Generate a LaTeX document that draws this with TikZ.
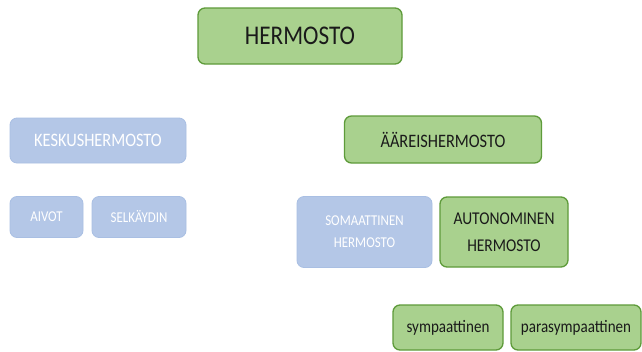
\documentclass[tikz,border=0pt]{standalone}
\usepackage{fontspec}
\setmainfont{Carlito}[FakeStretch=0.86]
\definecolor{greenfill}{HTML}{A9D18E}
\definecolor{greenline}{HTML}{5E9B3A}
\definecolor{bluefill}{HTML}{B4C7E7}
\definecolor{blueline}{HTML}{A9BFE3}
\definecolor{darktext}{HTML}{1A1A1A}
\tikzset{
  greenbox/.style={draw=greenline, line width=1.3pt, fill=greenfill, rounded corners=7pt,
    text=darktext, align=center, inner sep=0pt},
  bluebox/.style={draw=blueline, line width=0.8pt, fill=bluefill, rounded corners=7pt,
    text=white, align=center, inner sep=0pt},
}
\begin{document}
\begin{tikzpicture}[x=1pt, y=-1pt]
  \useasboundingbox (0,0) rectangle (642,351);
  \fill[white] (0,0) rectangle (642,351);

  % top level
  \node[greenbox, minimum width=204pt, minimum height=56pt, font=\fontsize{27}{30}\selectfont]
    (hermosto) at (300,36) {HERMOSTO};

  % central nervous system
  \node[bluebox, minimum width=176pt, minimum height=45pt, font=\fontsize{19}{22}\selectfont]
    (keskus) at (98,140.5) {KESKUSHERMOSTO};
  \node[bluebox, minimum width=73pt, minimum height=41pt, font=\fontsize{15}{18}\selectfont]
    (aivot) at (46.5,217) {AIVOT};
  \node[bluebox, minimum width=94pt, minimum height=41pt, font=\fontsize{15}{18}\selectfont]
    (selkaydin) at (139,217) {SELKÄYDIN};

  % peripheral nervous system
  \node[greenbox, minimum width=197pt, minimum height=47pt, font=\fontsize{19}{22}\selectfont]
    (aareis) at (443,139.5) {ÄÄREISHERMOSTO};
  \node[bluebox, minimum width=135pt, minimum height=71pt, font=\fontsize{15}{22}\selectfont]
    (somaattinen) at (364.5,232) {SOMAATTINEN\\HERMOSTO};
  \node[greenbox, minimum width=128pt, minimum height=70pt, font=\fontsize{18}{27}\selectfont]
    (autonominen) at (504,232) {AUTONOMINEN\\HERMOSTO};

  % autonomic branches
  \node[greenbox, minimum width=110pt, minimum height=45pt, font=\fontsize{17.5}{21}\selectfont]
    (sympaattinen) at (448,327.5) {sympaattinen};
  \node[greenbox, minimum width=130pt, minimum height=45pt, font=\fontsize{17.5}{21}\selectfont]
    (parasympaattinen) at (576,327.5) {parasympaattinen};
\end{tikzpicture}
\end{document}
